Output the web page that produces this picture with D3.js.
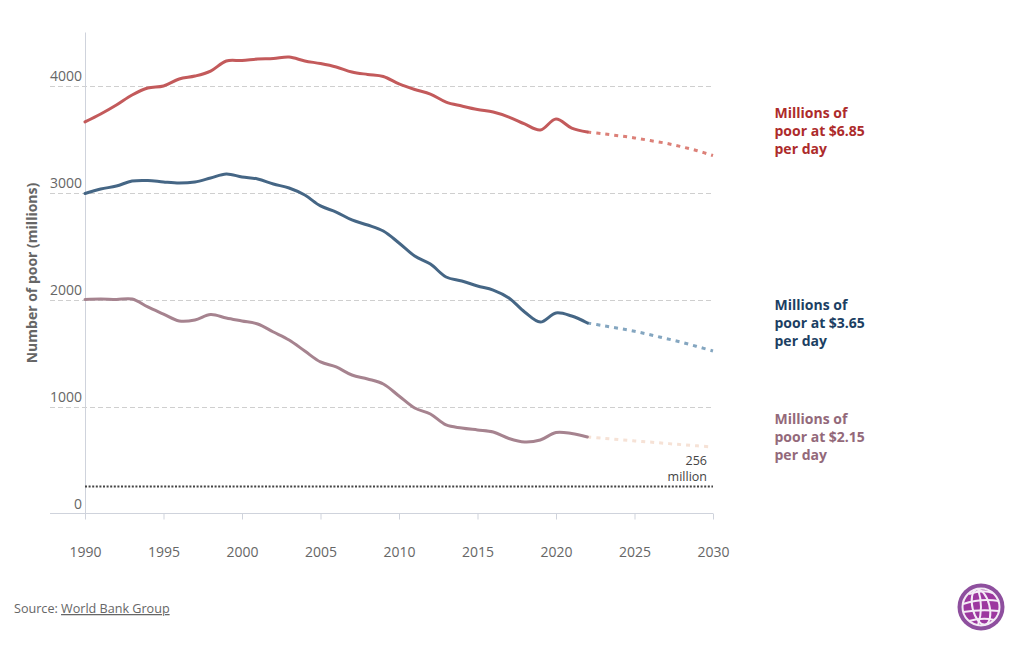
<!DOCTYPE html>
<html><head><meta charset="utf-8">
<script src="https://cdn.jsdelivr.net/npm/d3@7"></script>
<style>
html,body{margin:0;padding:0;background:#fff}
svg{display:block;font-family:"Open Sans",sans-serif}
</style></head><body>
<svg id="c" width="1020" height="650"></svg>
<script>
const years=[1990,1991,1992,1993,1994,1995,1996,1997,1998,1999,2000,2001,2002,2003,2004,2005,2006,2007,2008,2009,2010,2011,2012,2013,2014,2015,2016,2017,2018,2019,2020,2021,2022];
const projYears=[2022,2023,2024,2025,2026,2027,2028,2029,2030];
const red=[3664,3738,3822,3916,3981,4000,4065,4093,4140,4234,4238,4252,4257,4271,4234,4210,4178,4131,4108,4089,4019,3967,3925,3850,3813,3780,3757,3710,3645,3589,3692,3607,3570];
const blue=[2995,3037,3065,3112,3117,3103,3093,3103,3140,3178,3150,3131,3084,3047,2981,2879,2822,2748,2701,2645,2533,2411,2336,2215,2178,2131,2093,2019,1888,1794,1879,1850,1785];
const purple=[2005,2009,2005,2009,1935,1869,1804,1813,1864,1832,1804,1776,1701,1626,1523,1421,1374,1299,1262,1215,1103,991,935,832,804,785,766,706,673,692,762,752,720];
const redProj=[3570,3553,3535,3515,3490,3465,3432,3395,3350];
const blueProj=[1785,1760,1735,1708,1675,1640,1605,1565,1523];
const purpleProj=[720,708,695,683,672,660,648,637,626];
const yTicks=[0,1000,2000,3000,4000];
const xTicks=[1990,1995,2000,2005,2010,2015,2020,2025,2030];
const threshold=256;

const svg=d3.select("#c");
const x=d3.scaleLinear().domain([1990,2030]).range([85,713]);
const y=d3.scaleLinear().domain([0,4500]).range([514,32.5]);

// gridlines
svg.append("g").selectAll("line").data(yTicks.filter(d=>d>0)).join("line")
 .attr("x1",50).attr("x2",713).attr("y1",d=>Math.floor(y(d))+0.5).attr("y2",d=>Math.floor(y(d))+0.5)
 .attr("stroke","#cfcfcf").attr("stroke-width",1).attr("stroke-dasharray","5,3");

// axes
const gx=svg.append("g").attr("transform",`translate(0,${y(0)-0.5})`)
 .call(d3.axisBottom(x).tickValues(xTicks).tickFormat(d3.format("d")).tickSize(6).tickPadding(28));
gx.select(".domain").attr("stroke","#cfd3dc").attr("d",`M50,0H713`);
gx.selectAll(".tick line").attr("stroke","#cfd3dc");
gx.selectAll("text").attr("fill","#666").style("font-size","14px").style("font-family","'Open Sans'");

svg.append("line").attr("x1",85.5).attr("x2",85.5).attr("y1",y.range()[1]).attr("y2",y(0)).attr("stroke","#cfd3dc");

svg.append("g").selectAll("text").data(yTicks).join("text")
 .attr("x",82).attr("y",d=>y(d)-5).attr("text-anchor","end")
 .attr("fill","#666").style("font-size","14px").text(d=>d);

svg.append("text").attr("transform","translate(37,273) rotate(-90)").attr("text-anchor","middle")
 .attr("fill","#666").style("font-size","14px").style("font-weight",700).text("Number of poor (millions)");

const line=d3.line().curve(d3.curveCatmullRom.alpha(0.5));
const ln=(xs,vs)=>line(xs.map((t,i)=>[x(t),y(vs[i])]));

// threshold
svg.append("line").attr("x1",x(1990)).attr("x2",x(2030)).attr("y1",y(threshold)).attr("y2",y(threshold))
 .attr("stroke","#444").attr("stroke-width",2).attr("stroke-dasharray","2,1.6");

const series=[
 {v:red,p:redProj,c:"#c35a5b",pc:"#dc8078"},
 {v:blue,p:blueProj,c:"#456685",pc:"#84a6c0"},
 {v:purple,p:purpleProj,c:"#a6838f",pc:"#f6e2d6"}];
series.forEach(s=>{
 svg.append("path").attr("d",ln(projYears,s.p)).attr("fill","none").attr("stroke",s.pc)
  .attr("stroke-width",3).attr("stroke-dasharray","4,5");
 svg.append("path").attr("d",ln(years,s.v)).attr("fill","none").attr("stroke",s.c)
  .attr("stroke-width",3).attr("stroke-linecap","round");
});

// annotation
const ann=svg.append("text").attr("text-anchor","end").attr("fill","#444").style("font-size","12.5px");
ann.append("tspan").attr("x",707).attr("y",465).text("256");
ann.append("tspan").attr("x",707).attr("y",481).text("million");

// labels
const labels=[
 {t:["Millions of","poor at $6.85","per day"],y:118,c:"#ad2b2b"},
 {t:["Millions of","poor at $3.65","per day"],y:310,c:"#1c3f63"},
 {t:["Millions of","poor at $2.15","per day"],y:424,c:"#93697a"}];
labels.forEach(l=>{
 const t=svg.append("text").attr("fill",l.c).style("font-size","14px").style("font-weight",700);
 l.t.forEach((s,i)=>t.append("tspan").attr("x",774.5).attr("y",l.y+i*18).text(s));
});

// source
const src=svg.append("text").attr("x",14).attr("y",613).attr("fill","#666").style("font-size","12.6px");
src.append("tspan").text("Source: ");
src.append("tspan").attr("text-decoration","underline").text("World Bank Group");

// logo
const g=svg.append("g").attr("transform","translate(981,607)");
g.append("circle").attr("r",23.5).attr("fill","#8e4f9e");
g.append("circle").attr("r",19).attr("fill","#9c389f");
const st=e=>e.attr("fill","none").attr("stroke","#f4ecf6").attr("stroke-width",2);
st(g.append("circle").attr("r",18.5));
st(g.append("ellipse").attr("rx",8.5).attr("ry",18).attr("transform","rotate(-14)"));
st(g.append("path").attr("d","M-18,-3Q0,-9 18,-6M-18,5Q0,2 18,4M-12,-13Q2,-18 12,-14M-12,14Q2,10 13,13"));
st(g.append("path").attr("d","M-3,-18Q3,0 -3,18"));
</script>
</body></html>
